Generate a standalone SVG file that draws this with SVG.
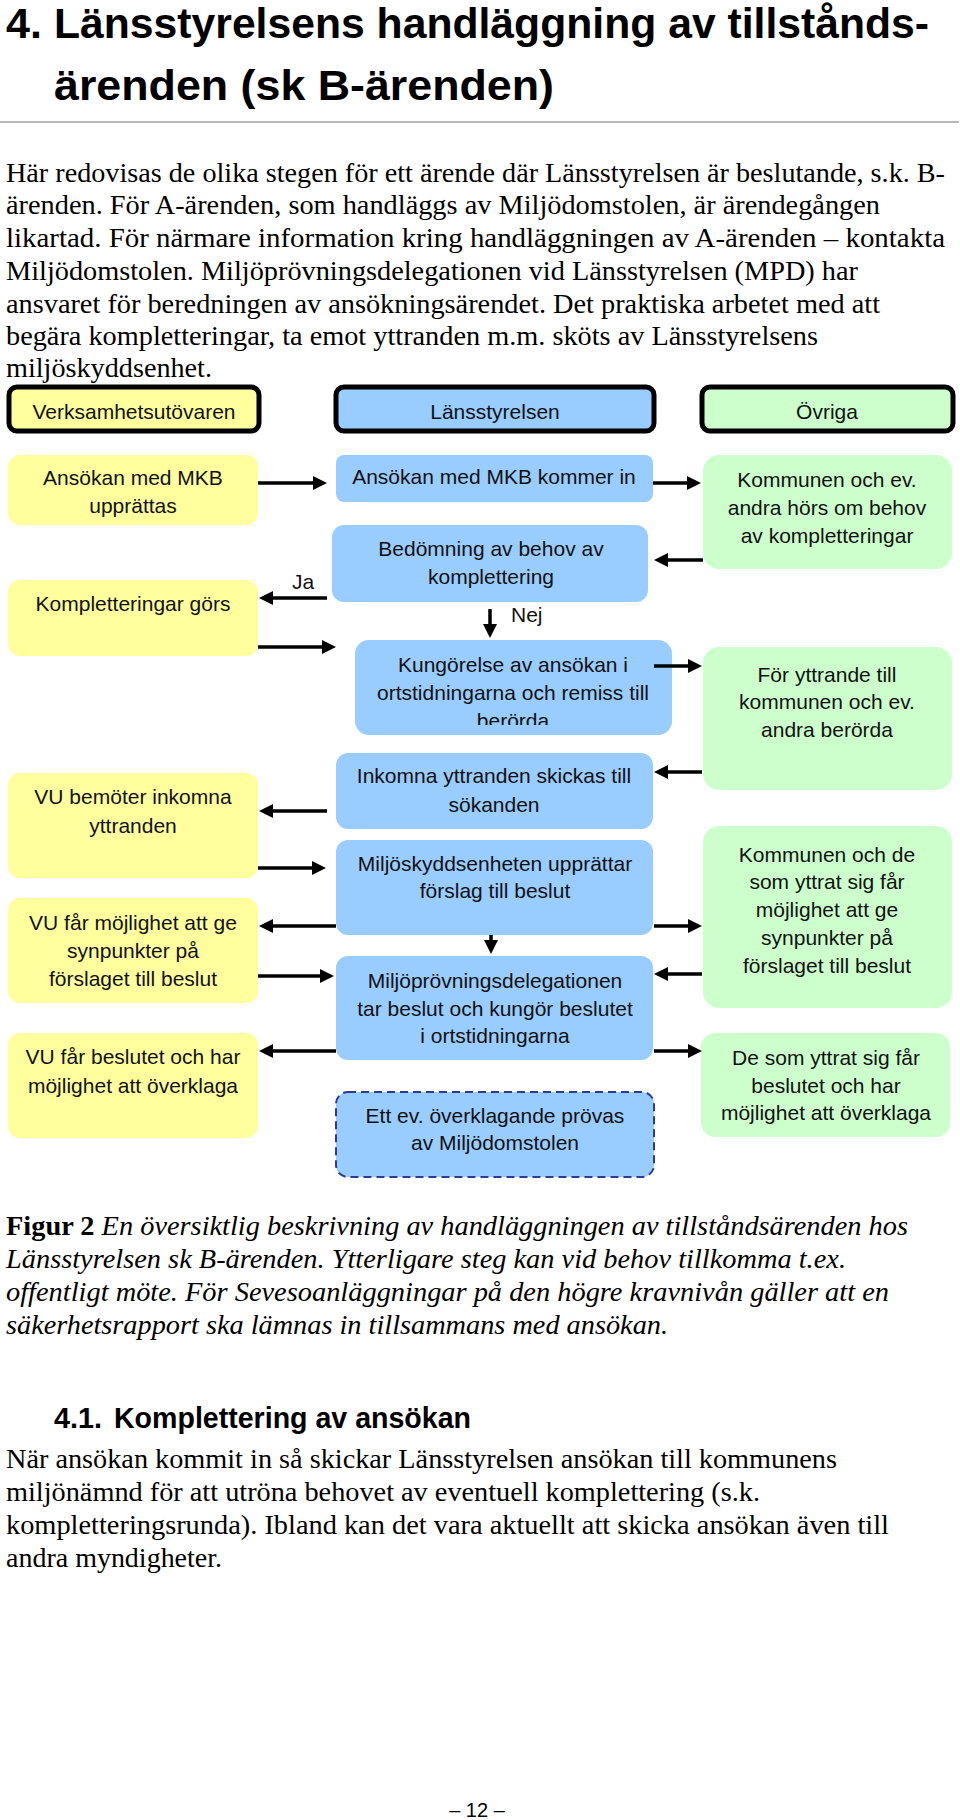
<svg xmlns="http://www.w3.org/2000/svg" width="960" height="1820" viewBox="0 0 960 1820">
<style>
.title{font-family:"Liberation Sans",Arial,sans-serif;font-weight:bold;font-size:43px;fill:#000}
.h2{font-family:"Liberation Sans",Arial,sans-serif;font-weight:bold;font-size:30px;fill:#000}
.body{font-family:"Liberation Serif","Times New Roman",serif;font-size:27px;fill:#000}
.cap{font-family:"Liberation Serif","Times New Roman",serif;font-size:27px;font-style:italic;fill:#000}
.capb{font-weight:bold;font-style:normal}
.nt{font-family:"Liberation Sans",Arial,sans-serif;font-size:21px;fill:#111;text-anchor:middle}
.lbl{font-family:"Liberation Sans",Arial,sans-serif;font-size:21px;fill:#111}
.hdr{stroke:#000;stroke-width:5}
.y{fill:#FFFF9E}
.b{fill:#99CCFF}
.g{fill:#CCFFCC}
.dash{fill:#99CCFF;stroke:#2E3A96;stroke-width:2;stroke-dasharray:8 5}
.arr{stroke:#000;stroke-width:3.5;fill:none;marker-end:url(#ah)}
.pg{font-family:"Liberation Sans",Arial,sans-serif;font-size:20px;fill:#000;text-anchor:middle}
</style>
<defs>
<marker id="ah" viewBox="0 0 14 14" markerWidth="14" markerHeight="14" refX="4" refY="7" orient="auto" markerUnits="userSpaceOnUse">
<path d="M0,0 L14,7 L0,14 z" fill="#000"/>
</marker>
<clipPath id="clipK"><rect x="355" y="640" width="317" height="85"/></clipPath>
</defs>
<rect x="0" y="0" width="960" height="1820" fill="#fff"/>

<g id="heading">
<text class="title" x="6" y="38">4.</text>
<text class="title" x="54" y="38" textLength="875" lengthAdjust="spacingAndGlyphs">Länsstyrelsens handläggning av tillstånds-</text>
<text class="title" x="54" y="100" textLength="500" lengthAdjust="spacingAndGlyphs">ärenden (sk B-ärenden)</text>
<line x1="0" y1="122" x2="959" y2="122" stroke="#A0A0A0" stroke-width="1.5"/>
</g>

<g id="intro">
<text class="body" x="6" y="182" textLength="939" lengthAdjust="spacingAndGlyphs">Här redovisas de olika stegen för ett ärende där Länsstyrelsen är beslutande, s.k. B-</text>
<text class="body" x="6" y="214" textLength="874" lengthAdjust="spacingAndGlyphs">ärenden. För A-ärenden, som handläggs av Miljödomstolen, är ärendegången</text>
<text class="body" x="6" y="247" textLength="939" lengthAdjust="spacingAndGlyphs">likartad. För närmare information kring handläggningen av A-ärenden – kontakta</text>
<text class="body" x="6" y="280" textLength="852" lengthAdjust="spacingAndGlyphs">Miljödomstolen. Miljöprövningsdelegationen vid Länsstyrelsen (MPD) har</text>
<text class="body" x="6" y="313" textLength="874" lengthAdjust="spacingAndGlyphs">ansvaret för beredningen av ansökningsärendet. Det praktiska arbetet med att</text>
<text class="body" x="6" y="345" textLength="812" lengthAdjust="spacingAndGlyphs">begära kompletteringar, ta emot yttranden m.m. sköts av Länsstyrelsens</text>
<text class="body" x="6" y="377" textLength="206" lengthAdjust="spacingAndGlyphs">miljöskyddsenhet.</text>
</g>

<g id="hdr-vu">
<rect class="hdr y" x="9" y="387" width="250" height="44" rx="8"/>
<text class="nt" x="134" y="419">Verksamhetsutövaren</text>
</g>
<g id="hdr-lst">
<rect class="hdr b" x="336" y="387" width="318" height="44" rx="8"/>
<text class="nt" x="495" y="419">Länsstyrelsen</text>
</g>
<g id="hdr-ovr">
<rect class="hdr g" x="702" y="387" width="251" height="44" rx="8"/>
<text class="nt" x="827" y="419">Övriga</text>
</g>

<g id="vu1">
<rect class="y" x="8" y="455" width="250" height="70" rx="12"/>
<text class="nt" x="133" y="485">Ansökan med MKB</text>
<text class="nt" x="133" y="513">upprättas</text>
</g>
<g id="vu2">
<rect class="y" x="8" y="580" width="250" height="76" rx="12"/>
<text class="nt" x="133" y="611">Kompletteringar görs</text>
</g>
<g id="vu3">
<rect class="y" x="8" y="773" width="250" height="105" rx="12"/>
<text class="nt" x="133" y="804">VU bemöter inkomna</text>
<text class="nt" x="133" y="833">yttranden</text>
</g>
<g id="vu4">
<rect class="y" x="8" y="898" width="250" height="105" rx="12"/>
<text class="nt" x="133" y="930">VU får möjlighet att ge</text>
<text class="nt" x="133" y="958">synpunkter på</text>
<text class="nt" x="133" y="986">förslaget till beslut</text>
</g>
<g id="vu5">
<rect class="y" x="8" y="1033" width="250" height="105" rx="12"/>
<text class="nt" x="133" y="1064">VU får beslutet och har</text>
<text class="nt" x="133" y="1093">möjlighet att överklaga</text>
</g>

<g id="ls1">
<rect class="b" x="336" y="455" width="317" height="47" rx="8"/>
<text class="nt" x="494" y="484">Ansökan med MKB kommer in</text>
</g>
<g id="ls2">
<rect class="b" x="332" y="525" width="316" height="77" rx="12"/>
<text class="nt" x="491" y="556">Bedömning av behov av</text>
<text class="nt" x="491" y="584">komplettering</text>
</g>
<g id="ls3">
<rect class="b" x="355" y="640" width="317" height="95" rx="14"/>
<g clip-path="url(#clipK)">
<text class="nt" x="513" y="672">Kungörelse av ansökan i</text>
<text class="nt" x="513" y="700">ortstidningarna och remiss till</text>
<text class="nt" x="513" y="728">berörda</text>
</g>
</g>
<g id="ls4">
<rect class="b" x="336" y="753" width="317" height="76" rx="12"/>
<text class="nt" x="494" y="783">Inkomna yttranden skickas till</text>
<text class="nt" x="494" y="812">sökanden</text>
</g>
<g id="ls5">
<rect class="b" x="336" y="840" width="317" height="95" rx="12"/>
<text class="nt" x="495" y="871">Miljöskyddsenheten upprättar</text>
<text class="nt" x="495" y="898">förslag till beslut</text>
</g>
<g id="ls6">
<rect class="b" x="336" y="956" width="317" height="104" rx="12"/>
<text class="nt" x="495" y="988">Miljöprövningsdelegationen</text>
<text class="nt" x="495" y="1016">tar beslut och kungör beslutet</text>
<text class="nt" x="495" y="1043">i ortstidningarna</text>
</g>
<g id="ls7">
<rect class="dash" x="336" y="1092" width="318" height="85" rx="12"/>
<text class="nt" x="495" y="1123">Ett ev. överklagande prövas</text>
<text class="nt" x="495" y="1150">av Miljödomstolen</text>
</g>

<g id="ov1">
<rect class="g" x="703" y="455" width="249" height="114" rx="16"/>
<text class="nt" x="827" y="487">Kommunen och ev.</text>
<text class="nt" x="827" y="515">andra hörs om behov</text>
<text class="nt" x="827" y="543">av kompletteringar</text>
</g>
<g id="ov2">
<rect class="g" x="703" y="647" width="249" height="143" rx="16"/>
<text class="nt" x="827" y="682">För  yttrande till</text>
<text class="nt" x="827" y="709">kommunen och ev.</text>
<text class="nt" x="827" y="737">andra berörda</text>
</g>
<g id="ov3">
<rect class="g" x="703" y="826" width="249" height="182" rx="16"/>
<text class="nt" x="827" y="862">Kommunen och de</text>
<text class="nt" x="827" y="889">som yttrat sig  får</text>
<text class="nt" x="827" y="917">möjlighet att ge</text>
<text class="nt" x="827" y="945">synpunkter på</text>
<text class="nt" x="827" y="973">förslaget till beslut</text>
</g>
<g id="ov4">
<rect class="g" x="701" y="1033" width="249" height="104" rx="14"/>
<text class="nt" x="826" y="1065">De som yttrat sig  får</text>
<text class="nt" x="826" y="1093">beslutet och har</text>
<text class="nt" x="826" y="1120">möjlighet att överklaga</text>
</g>

<g id="connectors">
<path class="arr" d="M258,483 H317"/>
<path class="arr" d="M653,483 H691"/>
<path class="arr" d="M703,560 H664"/>
<path class="arr" d="M327,598 H269"/>
<path class="arr" d="M258,647 H326"/>
<path class="arr" d="M490,609 V628"/>
<path class="arr" d="M654,666 H692"/>
<path class="arr" d="M702,772 H664"/>
<path class="arr" d="M327,811 H269"/>
<path class="arr" d="M258,868 H316"/>
<path class="arr" d="M654,926 H692"/>
<path class="arr" d="M336,926 H269"/>
<path class="arr" d="M491,935 V944"/>
<path class="arr" d="M258,976 H324"/>
<path class="arr" d="M702,974 H664"/>
<path class="arr" d="M336,1051 H269"/>
<path class="arr" d="M654,1051 H692"/>
<text class="lbl" x="292" y="589">Ja</text>
<text class="lbl" x="511" y="622">Nej</text>
</g>

<g id="caption">
<text class="cap" x="6" y="1235" textLength="902" lengthAdjust="spacingAndGlyphs"><tspan class="capb">Figur 2</tspan> En översiktlig beskrivning av handläggningen av tillståndsärenden hos</text>
<text class="cap" x="6" y="1268" textLength="840" lengthAdjust="spacingAndGlyphs">Länsstyrelsen sk B-ärenden. Ytterligare steg kan vid behov tillkomma t.ex.</text>
<text class="cap" x="6" y="1301" textLength="883" lengthAdjust="spacingAndGlyphs">offentligt möte. För Sevesoanläggningar på den högre kravnivån gäller att en</text>
<text class="cap" x="6" y="1334" textLength="662" lengthAdjust="spacingAndGlyphs">säkerhetsrapport ska lämnas in tillsammans med ansökan.</text>
</g>

<g id="section">
<text class="h2" x="54" y="1428" textLength="48" lengthAdjust="spacingAndGlyphs">4.1.</text>
<text class="h2" x="114" y="1428" textLength="357" lengthAdjust="spacingAndGlyphs">Komplettering av ansökan</text>
<text class="body" x="6" y="1468" textLength="831" lengthAdjust="spacingAndGlyphs">När ansökan kommit in så skickar Länsstyrelsen ansökan till kommunens</text>
<text class="body" x="6" y="1501" textLength="754" lengthAdjust="spacingAndGlyphs">miljönämnd för att utröna behovet av eventuell komplettering (s.k.</text>
<text class="body" x="6" y="1534" textLength="883" lengthAdjust="spacingAndGlyphs">kompletteringsrunda). Ibland kan det vara aktuellt att skicka ansökan även till</text>
<text class="body" x="6" y="1567" textLength="216" lengthAdjust="spacingAndGlyphs">andra myndigheter.</text>
<text class="pg" x="477" y="1817">– 12 –</text>
</g>
</svg>
